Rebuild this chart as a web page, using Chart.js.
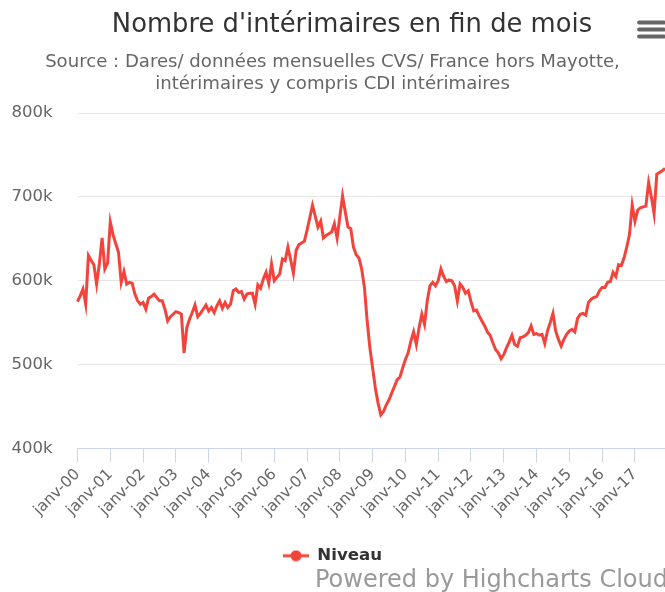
<!DOCTYPE html>
<html>
<head>
<meta charset="utf-8">
<script src="https://cdn.jsdelivr.net/npm/chart.js@4.4.1/dist/chart.umd.min.js"></script>
<style>
  html, body { margin: 0; padding: 0; background: #ffffff; }
  #wrap { width: 665px; height: 592px; overflow: hidden; }
</style>
</head>
<body>
<div id="wrap"><canvas id="c" width="665" height="592"></canvas></div>
<script>
// ---- Data ----
const TITLE = "Nombre d'intérimaires en fin de mois";
const SUBTITLE = ["Source : Dares/ données mensuelles CVS/ France hors Mayotte,", "intérimaires y compris CDI intérimaires"];
const SERIES_NAME = "Niveau";
const MONTHS = ["janv", "févr", "mars", "avr", "mai", "juin", "juil", "août", "sept", "oct", "nov", "déc"];
const YEARS = ["00","01","02","03","04","05","06","07","08","09","10","11","12","13","14","15","16","17"];
const Y_TICKS = [400000, 500000, 600000, 700000, 800000];

// monthly values (thousands), janv-00 .. déc-17
const v2000 = [575, 582, 590, 572, 630, 624, 619, 596, 620, 651, 614, 621];
const v2001 = [670, 655, 644, 634, 598, 611, 596, 598, 597, 584, 576, 572];
const v2002 = [574, 566, 579, 581, 584, 580, 576, 576, 566, 552, 557, 560];
const v2003 = [563, 562, 560, 514, 544, 554, 562, 571, 557, 561, 566, 571];
const v2004 = [564, 568, 562, 570, 576, 567, 574, 568, 572, 588, 590, 586];
const v2005 = [587, 578, 584, 585, 585, 572, 595, 591, 602, 610, 597, 620];
const v2006 = [600, 604, 608, 626, 624, 640, 625, 609, 636, 643, 645, 647];
const v2007 = [660, 675, 690, 677, 664, 671, 651, 654, 656, 658, 668, 651];
const v2008 = [676, 701, 682, 664, 662, 640, 631, 627, 614, 592, 552, 520];
const v2009 = [496, 472, 454, 440, 444, 452, 458, 466, 474, 482, 485, 496];
const v2010 = [506, 514, 528, 539, 524, 544, 560, 548, 576, 594, 598, 594];
const v2011 = [600, 614, 605, 599, 601, 600, 594, 576, 596, 592, 585, 588];
const v2012 = [575, 564, 565, 558, 552, 546, 539, 535, 526, 518, 514, 507];
const v2013 = [512, 520, 527, 535, 524, 522, 532, 533, 535, 538, 546, 536];
const v2014 = [537, 535, 536, 525, 540, 550, 561, 540, 530, 522, 530, 536];
const v2015 = [540, 542, 539, 555, 560, 561, 559, 574, 578, 580, 581, 588];
const v2016 = [592, 592, 598, 599, 610, 605, 619, 618, 627, 640, 655, 690];
const v2017 = [671, 684, 687, 688, 689, 717, 700, 680, 727, 729, 731, 734];

const valuesK = [].concat(v2000, v2001, v2002, v2003, v2004, v2005, v2006, v2007, v2008,
  v2009, v2010, v2011, v2012, v2013, v2014, v2015, v2016, v2017);
const values = valuesK.map(v => v * 1000);
const categories = [];
YEARS.forEach(y => MONTHS.forEach(m => categories.push(m + "-" + y)));

// ---- Styling ----
const FONT = "'DejaVu Sans', 'Lucida Grande', sans-serif";
const RED = "#f3433a";

// legend symbol: short line with a circle marker
const legendSym = document.createElement('canvas');
legendSym.width = 26; legendSym.height = 12;
(function () {
  const g = legendSym.getContext('2d');
  g.strokeStyle = RED; g.lineWidth = 3;
  g.beginPath(); g.moveTo(0, 6); g.lineTo(26, 6); g.stroke();
  g.fillStyle = RED;
  g.beginPath(); g.arc(13, 6, 5.5, 0, Math.PI * 2); g.fill();
})();

const decorations = {
  id: 'decorations',
  afterDraw(chart) {
    const ctx = chart.ctx;
    ctx.save();
    // title
    ctx.fillStyle = '#333333';
    ctx.font = "25.8px " + FONT;
    ctx.textAlign = 'center';
    ctx.textBaseline = 'middle';
    ctx.fillText(TITLE, 352, 25);
    // context menu icon
    ctx.strokeStyle = '#666666';
    ctx.lineWidth = 3.8;
    ctx.lineCap = 'round';
    [22.5, 29.5, 36.5].forEach(y => {
      ctx.beginPath(); ctx.moveTo(639, y); ctx.lineTo(664, y); ctx.stroke();
    });
    // credits
    ctx.fillStyle = '#999999';
    ctx.font = "24px " + FONT;
    ctx.textAlign = 'left';
    ctx.textBaseline = 'alphabetic';
    ctx.fillText("Powered by Highcharts Cloud", 315, 587);
    ctx.restore();
  }
};

new Chart(document.getElementById('c'), {
  type: 'line',
  data: {
    labels: categories,
    datasets: [{
      label: SERIES_NAME,
      data: values,
      borderColor: RED,
      backgroundColor: RED,
      borderWidth: 3,
      pointRadius: 0,
      tension: 0,
      fill: false
    }]
  },
  options: {
    responsive: false,
    animation: false,
    devicePixelRatio: 1,
    layout: { padding: { left: 0, right: 0, top: 0, bottom: 18 } },
    plugins: {
      title: { display: false },
      subtitle: {
        display: true,
        text: SUBTITLE,
        color: '#666666',
        font: { family: FONT, size: 18.1, weight: 'normal', lineHeight: '22px' },
        padding: { top: 51, bottom: 18 }
      },
      legend: {
        position: 'bottom',
        labels: {
          usePointStyle: true,
          pointStyle: legendSym,
          pointStyleWidth: 26,
          color: '#333333',
          font: { family: FONT, size: 16.6, weight: 'bold' },
          padding: 8
        }
      },
      tooltip: { enabled: false }
    },
    scales: {
      x: {
        type: 'category',
        afterFit(scale) { scale.height = 91; },
        grid: {
          drawOnChartArea: false,
          drawTicks: true,
          tickLength: 14,
          color: '#ccd6eb',
          tickColor: '#ccd6eb'
        },
        border: { display: true, color: '#ccd6eb', width: 1 },
        ticks: {
          autoSkip: false,
          maxRotation: 45,
          minRotation: 45,
          padding: 3,
          color: '#666666',
          font: { family: FONT, size: 15.5 },
          callback(value, index) {
            return index % 12 === 0 ? categories[index] : null;
          }
        }
      },
      y: {
        min: 400000,
        max: 800000,
        afterFit(scale) { scale.width = 77.5; },
        afterBuildTicks(scale) { scale.ticks = Y_TICKS.map(v => ({ value: v })); },
        grid: { color: '#e6e6e6', lineWidth: 1, drawTicks: false },
        border: { display: false },
        ticks: {
          padding: 25,
          color: '#666666',
          font: { family: FONT, size: 16.5 },
          callback(value) { return (value / 1000) + 'k'; }
        }
      }
    }
  },
  plugins: [decorations]
});
</script>
</body>
</html>
